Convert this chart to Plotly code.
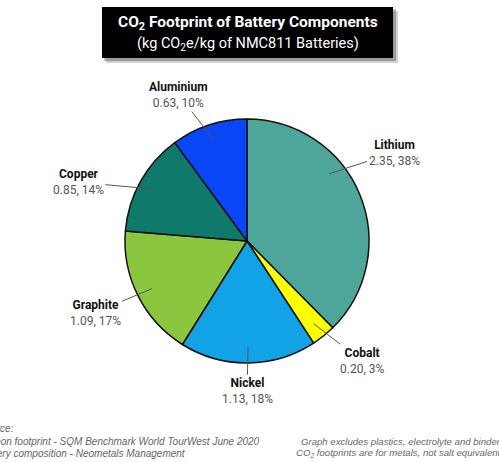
import math
import plotly.graph_objects as go

# Battery components and their CO2 footprint (kg CO2e per kg of NMC811 battery)
components = ["Lithium", "Cobalt", "Nickel", "Graphite", "Copper", "Aluminium"]
footprint = [2.35, 0.20, 1.13, 1.09, 0.85, 0.63]
colors = ["#4ea59a", "#ffff00", "#12a2e6", "#8cc63f", "#0f7a6b", "#0846f6"]

W, H = 499, 462
CX, CY, R = 247, 241, 122  # pie centre and radius in pixels

fig = go.Figure(go.Pie(
    labels=components,
    values=footprint,
    sort=False,
    direction="clockwise",
    rotation=0,
    marker=dict(colors=colors, line=dict(color="#111111", width=1.5)),
    textinfo="none",
    hoverinfo="label+value+percent",
    showlegend=False,
    domain=dict(x=[(CX - R) / W, (CX + R) / W],
                y=[1 - (CY + R) / H, 1 - (CY - R) / H]),
))

label_font = "Roboto, Inter, sans-serif"

# leader-line tip nudges (degrees) and label offsets (pixels) per slice
tip_nudge = [-17, 0, 0, 0, 0, 0]
label_offset = [(65, -21), (48, 37), (-1, 44), (-57, 24), (-76, -7), (-35, -45)]

total = sum(footprint)
cum = 0.0
annotations = []
for name, v, nudge, (ax, ay) in zip(components, footprint, tip_nudge, label_offset):
    mid = (cum + v / 2) / total * 360 + nudge
    cum += v
    th = math.radians(mid)
    tx = CX + 0.87 * R * math.sin(th)
    ty = CY - 0.87 * R * math.cos(th)
    pct = round(v / total * 100)
    annotations.append(dict(
        x=tx / W, y=1 - ty / H, xref="paper", yref="paper",
        ax=ax, ay=ay, axref="pixel", ayref="pixel",
        showarrow=True, arrowhead=0, arrowwidth=1, arrowcolor="#555555",
        text=f"<b>{name}</b><br><span style='color:#555555'>{v:.2f}, {pct}%</span>",
        font=dict(family=label_font, size=12, color="#111111"),
        align="center",
    ))

# title inside black box
annotations.append(dict(
    x=248 / W, y=1 - 23 / H, xref="paper", yref="paper", showarrow=False,
    text="<b>CO<sub>2</sub> Footprint of Battery Components</b>",
    font=dict(family=label_font, size=15.5, color="#ffffff"),
    xanchor="center", yanchor="middle",
))
annotations.append(dict(
    x=248 / W, y=1 - 44 / H, xref="paper", yref="paper", showarrow=False,
    text="(kg CO<sub>2</sub>e/kg of NMC811 Batteries)",
    font=dict(family=label_font, size=14.5, color="#ffffff"),
    xanchor="center", yanchor="middle",
))

# footnotes
foot_font = dict(family="Liberation Sans, Arial, sans-serif", color="#666666")
left_notes = ["Source:",
              "Carbon footprint - SQM Benchmark World TourWest June 2020",
              "Battery composition - Neometals Management"]
right_notes = ["Graph excludes plastics, electrolyte and binders",
               "CO<sub>2</sub> footprints are for metals, not salt equivalents"]
for t, yy in zip(left_notes, [428, 441, 453]):
    annotations.append(dict(
        x=-23 / W, y=1 - yy / H, xref="paper", yref="paper", showarrow=False,
        text=f"<i>{t}</i>", font=dict(size=10, **foot_font),
        xanchor="left", yanchor="middle",
    ))
for t, yy in zip(right_notes, [441, 453]):
    annotations.append(dict(
        x=507 / W, y=1 - yy / H, xref="paper", yref="paper", showarrow=False,
        text=f"<i>{t}</i>", font=dict(size=9.6, **foot_font),
        xanchor="right", yanchor="middle",
    ))

shapes = [
    dict(type="rect", xref="paper", yref="paper", layer="below",
         x0=106 / W, x1=398 / W, y0=1 - 63 / H, y1=1 - 11 / H,
         fillcolor="rgba(0,0,0,0.18)", line=dict(width=0)),
    dict(type="rect", xref="paper", yref="paper", layer="below",
         x0=104 / W, x1=396 / W, y0=1 - 61 / H, y1=1 - 9 / H,
         fillcolor="rgba(0,0,0,0.25)", line=dict(width=0)),
    dict(type="rect", xref="paper", yref="paper", layer="below",
         x0=102 / W, x1=393 / W, y0=1 - 58 / H, y1=1 - 7 / H,
         fillcolor="#000000", line=dict(width=0)),
]

fig.update_layout(
    width=W, height=H,
    margin=dict(l=0, r=0, t=0, b=0),
    paper_bgcolor="#ffffff", plot_bgcolor="#ffffff",
    annotations=annotations, shapes=shapes,
)

fig.write_html("out.html", config=dict(displayModeBar=False))
